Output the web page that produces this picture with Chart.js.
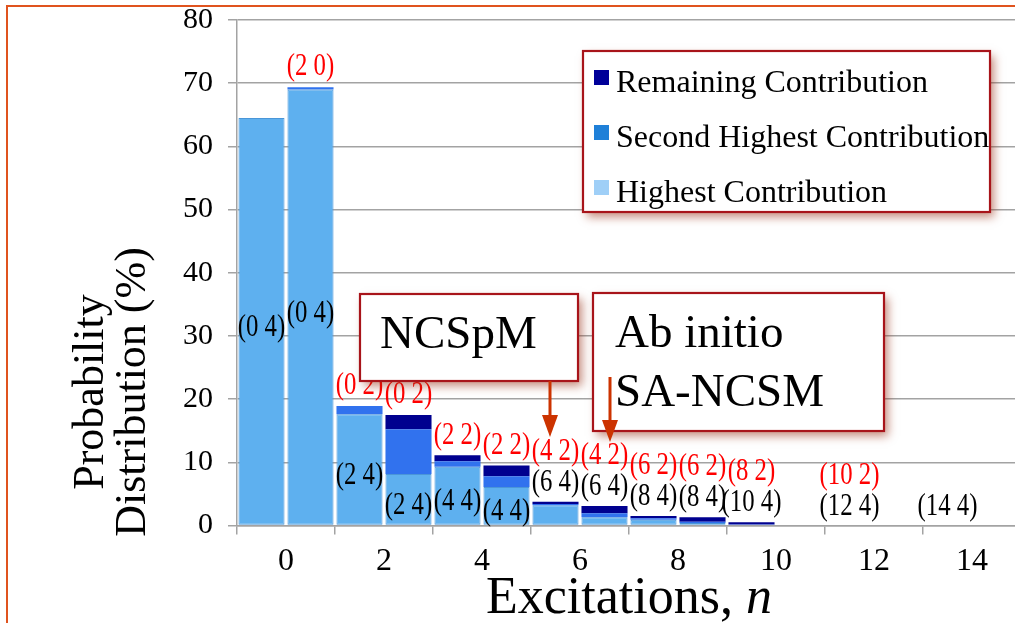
<!DOCTYPE html>
<html>
<head>
<meta charset="utf-8">
<script src="https://cdn.jsdelivr.net/npm/chart.js@4.4.1/dist/chart.umd.min.js"></script>
<style>
html,body{margin:0;padding:0;background:#fff;overflow:hidden;width:1015px;height:623px;}
#wrap{position:absolute;left:0;top:0;width:1030px;height:623px;}
</style>
</head>
<body>
<div id="wrap"><canvas id="c" width="1030" height="623"></canvas></div>
<script>
// ---- data ----
const categories = ['0', '2', '4', '6', '8', '10', '12', '14'];
const yTickValues = [0, 10, 20, 30, 40, 50, 60, 70, 80];

// NCSpM (left bar of each pair)
const ncspmHighest   = [64.5, 17.6, 9.3, 3.2, 0.9, 0.1, 0, 0];
const ncspmSecond    = [0, 1.3, 0.85, 0.2, 0.25, 0.05, 0, 0];
const ncspmRemaining = [0, 0, 0.95, 0.37, 0.37, 0.35, 0, 0];
// Ab initio SA-NCSM (right bar of each pair)
const saHighest   = [69.0, 8.15, 6.1, 1.3, 0.4, 0, 0, 0];
const saSecond    = [0.35, 7.07, 1.7, 0.63, 0.2, 0, 0, 0];
const saRemaining = [0, 2.26, 1.7, 1.15, 0.7, 0, 0, 0];

const ncspmHighestLabels = ['(0 4)', '(2 4)', '(4 4)', '(6 4)', '(8 4)', '(10 4)', '(12 4)', '(14 4)'];
const ncspmSecondLabels  = ['', '(0 2)', '(2 2)', '(4 2)', '(6 2)', '(8 2)', '(10 2)', ''];
const saHighestLabels    = ['(0 4)', '(2 4)', '(4 4)', '(6 4)', '(8 4)', '', '', ''];
const saSecondLabels     = ['(2 0)', '(0 2)', '(2 2)', '(4 2)', '(6 2)', '', '', ''];

const seriesNames = ['Highest Contribution', 'Second Highest Contribution', 'Remaining Contribution'];
const yTitleLines = ['Probability', 'Distribution (%)'];
const xTitleText = 'Excitations, ';
const xTitleVar = 'n';
const noteA = ['NCSpM'];
const noteB = ['Ab initio', 'SA-NCSM'];

// ---- styles ----
const SERIF = '"Liberation Serif", "Times New Roman", serif';
const barColors = ['#5eb0ef', '#3172ee', '#00008f'];
const barBorders = ['#4a96d8', '#3172ee', '#00008f'];
const legendColors = ['#9fcff7', '#1f80d8', '#000099'];
const GRID = '#a3a3a3';

function ds(label, data, stack, k) {
  return {
    label, data, stack,
    backgroundColor: barColors[k],
    borderColor: barBorders[k],
    borderWidth: c => (c.raw ? (k === 0 ? 1 : 0) : 0),
    borderSkipped: false
  };
}

const decor = {
  id: 'decor',
  beforeDraw(chart) {
    const ctx = chart.ctx;
    ctx.save();
    ctx.fillStyle = '#fff';
    ctx.fillRect(0, 0, chart.width, chart.height);
    ctx.restore();
  },
  afterDatasetsDraw(chart) {
    const ctx = chart.ctx, ys = chart.scales.y;
    const groups = [
      { ds: [0, 1, 2], hi: ncspmHighestLabels, se: ncspmSecondLabels },
      { ds: [3, 4, 5], hi: saHighestLabels, se: saSecondLabels }
    ];
    const SX = 0.8;
    function label(text, x, y, color) {
      ctx.save();
      ctx.translate(x, y);
      ctx.scale(SX, 1);
      ctx.fillStyle = color;
      ctx.fillText(text, 0, 0);
      ctx.restore();
    }
    ctx.save();
    ctx.font = '31px ' + SERIF;
    ctx.textAlign = 'center';
    ctx.textBaseline = 'middle';
    groups.forEach(g => {
      const meta = chart.getDatasetMeta(g.ds[0]);
      meta.data.forEach((el, j) => {
        const vals = g.ds.map(d => chart.data.datasets[d].data[j]);
        const total = vals.reduce((a, b) => a + b, 0);
        const top = ys.getPixelForValue(total);
        const segTop = ys.getPixelForValue(vals[0]);
        const base = ys.getPixelForValue(0);
        const inside = base - segTop >= 30;
        const by = inside ? (segTop + base) / 2 + 6 : top - 19;
        const ry = inside ? top - 20 : by - 31;
        if (g.hi[j]) label(g.hi[j], el.x, by, '#000');
        if (g.se[j]) label(g.se[j], el.x, ry, '#ff0000');
      });
    });
    ctx.restore();
  },
  afterDraw(chart) {
    const ctx = chart.ctx;
    const area = chart.chartArea;

    function shadowBox(x, y, w, h) {
      ctx.save();
      ctx.shadowColor = 'rgba(150,45,20,0.55)';
      ctx.shadowBlur = 9;
      ctx.shadowOffsetX = 4;
      ctx.shadowOffsetY = 5;
      ctx.fillStyle = '#fff';
      ctx.fillRect(x, y, w, h);
      ctx.restore();
      ctx.save();
      ctx.strokeStyle = '#a8141a';
      ctx.lineWidth = 2.2;
      ctx.strokeRect(x, y, w, h);
      ctx.restore();
    }
    function arrow(x, y0, y1) {
      ctx.save();
      ctx.strokeStyle = '#cc3300';
      ctx.fillStyle = '#cc3300';
      ctx.lineWidth = 3;
      ctx.beginPath();
      ctx.moveTo(x, y0);
      ctx.lineTo(x, y1 - 18);
      ctx.stroke();
      ctx.beginPath();
      ctx.moveTo(x, y1);
      ctx.lineTo(x - 8, y1 - 22);
      ctx.lineTo(x + 8, y1 - 22);
      ctx.closePath();
      ctx.fill();
      ctx.restore();
    }

    // legend
    shadowBox(583, 51, 407, 161);
    ctx.save();
    ctx.font = '32px ' + SERIF;
    ctx.textAlign = 'left';
    ctx.textBaseline = 'alphabetic';
    [2, 1, 0].forEach((k, i) => {
      const base = 92 + i * 55;
      ctx.fillStyle = legendColors[k];
      ctx.fillRect(594, base - 22, 15, 15);
      ctx.fillStyle = '#000';
      ctx.fillText(seriesNames[k], 616, base);
    });
    ctx.restore();

    // annotations
    shadowBox(360, 294, 218, 87);
    shadowBox(593, 293, 291, 138);
    ctx.save();
    ctx.font = '47px ' + SERIF;
    ctx.fillStyle = '#000';
    ctx.textAlign = 'left';
    ctx.textBaseline = 'alphabetic';
    ctx.fillText(noteA[0], 380, 348);
    ctx.fillText(noteB[0], 615, 347);
    ctx.fillText(noteB[1], 615, 406);
    ctx.restore();
    arrow(550, 381, 437);
    arrow(610, 377, 442);

    // y axis title (two lines, rotated)
    ctx.save();
    ctx.font = '44px ' + SERIF;
    ctx.fillStyle = '#000';
    ctx.textAlign = 'center';
    ctx.textBaseline = 'alphabetic';
    [103, 145].forEach((bx, i) => {
      ctx.save();
      ctx.translate(bx, 392);
      ctx.rotate(-Math.PI / 2);
      ctx.fillText(yTitleLines[i], 0, 0);
      ctx.restore();
    });
    ctx.restore();

    // x axis title with italic variable
    ctx.save();
    ctx.fillStyle = '#000';
    ctx.textBaseline = 'alphabetic';
    ctx.textAlign = 'left';
    const fReg = '52px ' + SERIF, fIt = 'italic 52px ' + SERIF;
    ctx.font = fReg;
    const w1 = ctx.measureText(xTitleText).width;
    ctx.font = fIt;
    const w2 = ctx.measureText(xTitleVar).width;
    const cx = (area.left + area.right) / 2;
    const sx = cx - (w1 + w2) / 2;
    ctx.font = fReg;
    ctx.fillText(xTitleText, sx, 613);
    ctx.font = fIt;
    ctx.fillText(xTitleVar, sx + w1, 613);
    ctx.restore();

    // outer frame (left and top edges visible)
    ctx.save();
    ctx.strokeStyle = '#e0531e';
    ctx.lineWidth = 2;
    ctx.strokeRect(7, 6, 1100, 700);
    ctx.restore();
  }
};

new Chart(document.getElementById('c'), {
  type: 'bar',
  data: {
    labels: categories,
    datasets: [
      ds(seriesNames[0], ncspmHighest, 'ncspm', 0),
      ds(seriesNames[1], ncspmSecond, 'ncspm', 1),
      ds(seriesNames[2], ncspmRemaining, 'ncspm', 2),
      ds(seriesNames[0], saHighest, 'sancsm', 0),
      ds(seriesNames[1], saSecond, 'sancsm', 1),
      ds(seriesNames[2], saRemaining, 'sancsm', 2)
    ]
  },
  options: {
    responsive: false,
    animation: false,
    devicePixelRatio: 1,
    layout: { padding: { top: 20, right: 9, bottom: 0, left: 0 } },
    plugins: { legend: { display: false }, tooltip: { enabled: false } },
    datasets: { bar: { categoryPercentage: 1.0, barPercentage: 0.94 } },
    scales: {
      x: {
        stacked: true,
        grid: { offset: true, drawOnChartArea: false, tickLength: 9, color: GRID, lineWidth: 1.5 },
        border: { color: GRID, width: 1.5 },
        ticks: { color: '#000', font: { family: SERIF, size: 32 }, padding: 8, maxRotation: 0 },
        afterFit(s) { s.height = 97.5; }
      },
      y: {
        stacked: true,
        min: 0, max: 80,
        afterBuildTicks(s) { s.ticks = yTickValues.map(v => ({ value: v })); },
        grid: { color: GRID, lineWidth: 1.5, tickLength: 9 },
        border: { color: GRID, width: 1.5 },
        ticks: { color: '#000', font: { family: SERIF, size: 30, lineHeight: 0.2 }, padding: 15, autoSkip: false },
        afterFit(s) { s.width = 237; }
      }
    }
  },
  plugins: [decor]
});
</script>
</body>
</html>
